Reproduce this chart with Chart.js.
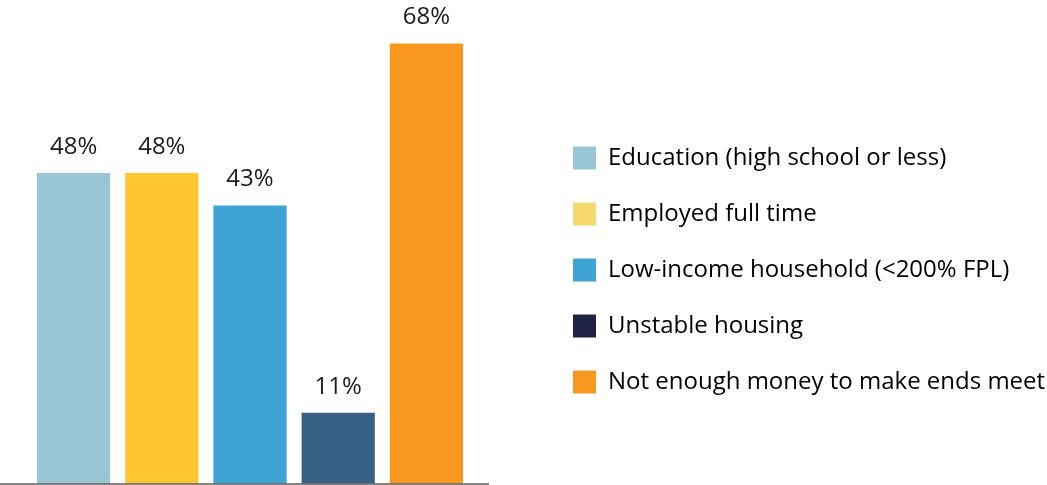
<!DOCTYPE html>
<html>
<head>
<meta charset="utf-8">
<script src="https://cdn.jsdelivr.net/npm/chart.js@4"></script>
<style>
  html, body { margin: 0; padding: 0; background: #ffffff; }
  #wrap { position: relative; width: 1047px; height: 485px; }
</style>
</head>
<body>
<div id="wrap"><canvas id="myChart"></canvas></div>
<script>
const categories = [
    'Education (high school or less)',
    'Employed full time',
    'Low-income household (<200% FPL)',
    'Unstable housing',
    'Not enough money to make ends meet'
];
const values = [48, 48, 43, 11, 68];

const barColors = ['#98c6d4', '#fec72e', '#3da4d4', '#376184', '#f8981f'];
const legendColors = ['#98c6d4', '#f5d96e', '#3da4d4', '#1f2244', '#f8981f'];

const FONT = "'Open Sans', 'Noto Sans', sans-serif";
const LEG_PAD = 32;

// value labels above bars
const barLabels = {
    id: 'barLabels',
    afterDatasetsDraw(chart) {
        const ctx = chart.ctx;
        const meta = chart.getDatasetMeta(0);
        ctx.save();
        ctx.font = '24px ' + FONT;
        ctx.fillStyle = '#1a1a1a';
        ctx.textAlign = 'center';
        ctx.textBaseline = 'middle';
        meta.data.forEach((bar, i) => {
            ctx.fillText(values[i] + '%', bar.x, bar.y - 26);
        });
        ctx.restore();
    }
};

// grey baseline under the bars
const baseLine = {
    id: 'baseLine',
    afterDatasetsDraw(chart) {
        const ctx = chart.ctx;
        const y = chart.scales.y.getPixelForValue(0);
        ctx.save();
        ctx.strokeStyle = 'rgba(110,110,110,0.85)';
        ctx.lineWidth = 2;
        ctx.beginPath();
        ctx.moveTo(0, y);
        ctx.lineTo(chart.chartArea.right + 18.5, y);
        ctx.stroke();
        ctx.restore();
    }
};

// keep the plot narrow and put the legend where it sits in the picture
const legendPlace = {
    id: 'legendPlace',
    beforeInit(chart) {
        const lg = chart.legend;
        const orig = lg.fit;
        lg.fit = function () {
            orig.call(this);
            this.width = 1047 - 470.5;
        };
    },
    afterLayout(chart) {
        chart.legend.left = 573 - LEG_PAD;
        chart.legend.top = 146 - LEG_PAD;
    }
};

new Chart(document.getElementById('myChart'), {
    type: 'bar',
    data: {
        labels: categories,
        datasets: [{
            data: values,
            backgroundColor: barColors,
            borderWidth: 0,
            barPercentage: 0.83,
            categoryPercentage: 1
        }]
    },
    options: {
        responsive: true,
        maintainAspectRatio: false,
        animation: false,
        layout: { padding: { left: 29.5, top: 0, right: 0, bottom: 1 } },
        scales: {
            x: { display: false },
            y: { display: false, min: 0, max: 74.7 }
        },
        plugins: {
            tooltip: { enabled: false },
            legend: {
                position: 'right',
                align: 'start',
                labels: {
                    boxWidth: 23,
                    boxHeight: 23,
                    padding: LEG_PAD,
                    color: '#1a1a1a',
                    font: { family: FONT, size: 24 },
                    generateLabels() {
                        return categories.map((t, i) => ({
                            text: t,
                            fillStyle: legendColors[i],
                            strokeStyle: legendColors[i],
                            lineWidth: 0,
                            hidden: false,
                            index: i
                        }));
                    }
                }
            }
        }
    },
    plugins: [barLabels, baseLine, legendPlace]
});
</script>
</body>
</html>
